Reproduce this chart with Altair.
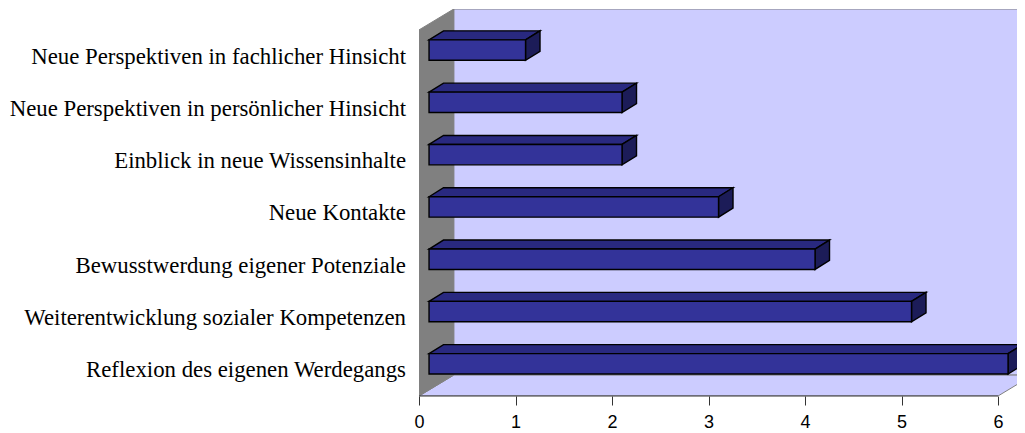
import json
import altair as alt
import pandas as pd

categories = [
    "Neue Perspektiven in fachlicher Hinsicht",
    "Neue Perspektiven in persönlicher Hinsicht",
    "Einblick in neue Wissensinhalte",
    "Neue Kontakte",
    "Bewusstwerdung eigener Potenziale",
    "Weiterentwicklung sozialer Kompetenzen",
    "Reflexion des eigenen Werdegangs",
]
values = [1, 2, 2, 3, 4, 5, 6]
x_ticks = [0, 1, 2, 3, 4, 5, 6]

# pseudo-3D projection, in axis units
X_MAX, Y_TOP = 598 / 96.5, -0.40
WALL_DX, WALL_DY = 0.36, 0.40     # total depth of the chart box
BAR_DX, BAR_DY = 0.104, 0.115     # gap between front plane and bar
FACE_DX, FACE_DY = 0.15, 0.172    # bar depth
HALF = 0.195                      # half of the bar thickness

n = len(categories)
xs = alt.Scale(domain=[0, X_MAX], nice=False, zero=False)
ys = alt.Scale(domain=[n, Y_TOP], nice=False, zero=False)

x_axis = alt.Axis(
    values=x_ticks, domain=False, grid=False, tickColor="#333333", tickSize=9, tickWidth=1,
    labelFont="Liberation Sans", labelFontSize=18, labelColor="#000000", labelPadding=8,
    labelFlush=False, format="d", title=None,
)
y_axis = alt.Axis(
    values=[i + 0.5 for i in range(n)], domain=False, grid=False, ticks=False,
    labelExpr=json.dumps(categories, ensure_ascii=False) + "[floor(datum.value)]",
    labelFont="Liberation Serif", labelFontSize=22.8, labelColor="#000000", labelPadding=13.5,
    labelLimit=420, title=None,
)


def polys(rows):
    return pd.DataFrame(rows, columns=["id", "x", "y", "y2"])


def area(rows, fill, stroke, width=1.0):
    return alt.Chart(polys(rows)).mark_area(
        fill=fill, stroke=stroke, strokeWidth=width, clip=True, interpolate="linear", opacity=1
    ).encode(
        x=alt.X("x:Q", scale=xs, axis=x_axis),
        y=alt.Y("y:Q", scale=ys, axis=y_axis),
        y2="y2:Q",
        detail="id:N",
    )


back = [("b", WALL_DX, Y_TOP, n - WALL_DY), ("b", X_MAX + 1, Y_TOP, n - WALL_DY)]
wall = [("w", 0, WALL_DY + Y_TOP, n), ("w", WALL_DX, Y_TOP, n - WALL_DY)]
x_end = x_ticks[-1]
floor = [
    ("f", 0, n, n),
    ("f", WALL_DX, n - WALL_DY, n),
    ("f", x_end, n - WALL_DY, n),
    ("f", x_end + WALL_DX, n - WALL_DY, n - WALL_DY),
]

front_rows, top_rows, side_rows = [], [], []
for i, v in enumerate(values):
    c = i + 0.5 - BAR_DY
    t, b = c - HALF, c + HALF
    x0, x1 = BAR_DX, v + BAR_DX
    front_rows += [(i, x0, t, b), (i, x1, t, b)]
    top_rows += [
        (i, x0, t, t),
        (i, x0 + FACE_DX, t - FACE_DY, t),
        (i, x1, t - FACE_DY, t),
        (i, x1 + FACE_DX, t - FACE_DY, t - FACE_DY),
    ]
    side_rows += [(i, x1, t, b), (i, x1 + FACE_DX, t - FACE_DY, b - FACE_DY)]

x_line = alt.Chart(pd.DataFrame({"x": [0], "x2": [x_end], "y": [n]})).mark_rule(
    color="#333333", strokeWidth=1
).encode(x=alt.X("x:Q", scale=xs, axis=x_axis), x2="x2:Q", y=alt.Y("y:Q", scale=ys, axis=y_axis))

chart = alt.layer(
    area(back, "#CCCCFF", "#808080"),
    area(floor, "#CCCCFF", "#808080"),
    area(wall, "#808080", "#808080"),
    x_line,
    area(top_rows, "#292980", "#000000", 1.4),
    area(side_rows, "#1C1C58", "#000000", 1.4),
    area(front_rows, "#333399", "#000000", 1.4),
).properties(
    width=598,
    height=387,
    autosize=alt.AutoSizeParams(type="none"),
    padding={"left": 411, "top": 1, "right": 0, "bottom": 37},
    background="#FFFFFF",
).configure_view(stroke=None)

chart.save("out.html", embed_options={"renderer": "svg", "actions": False})
